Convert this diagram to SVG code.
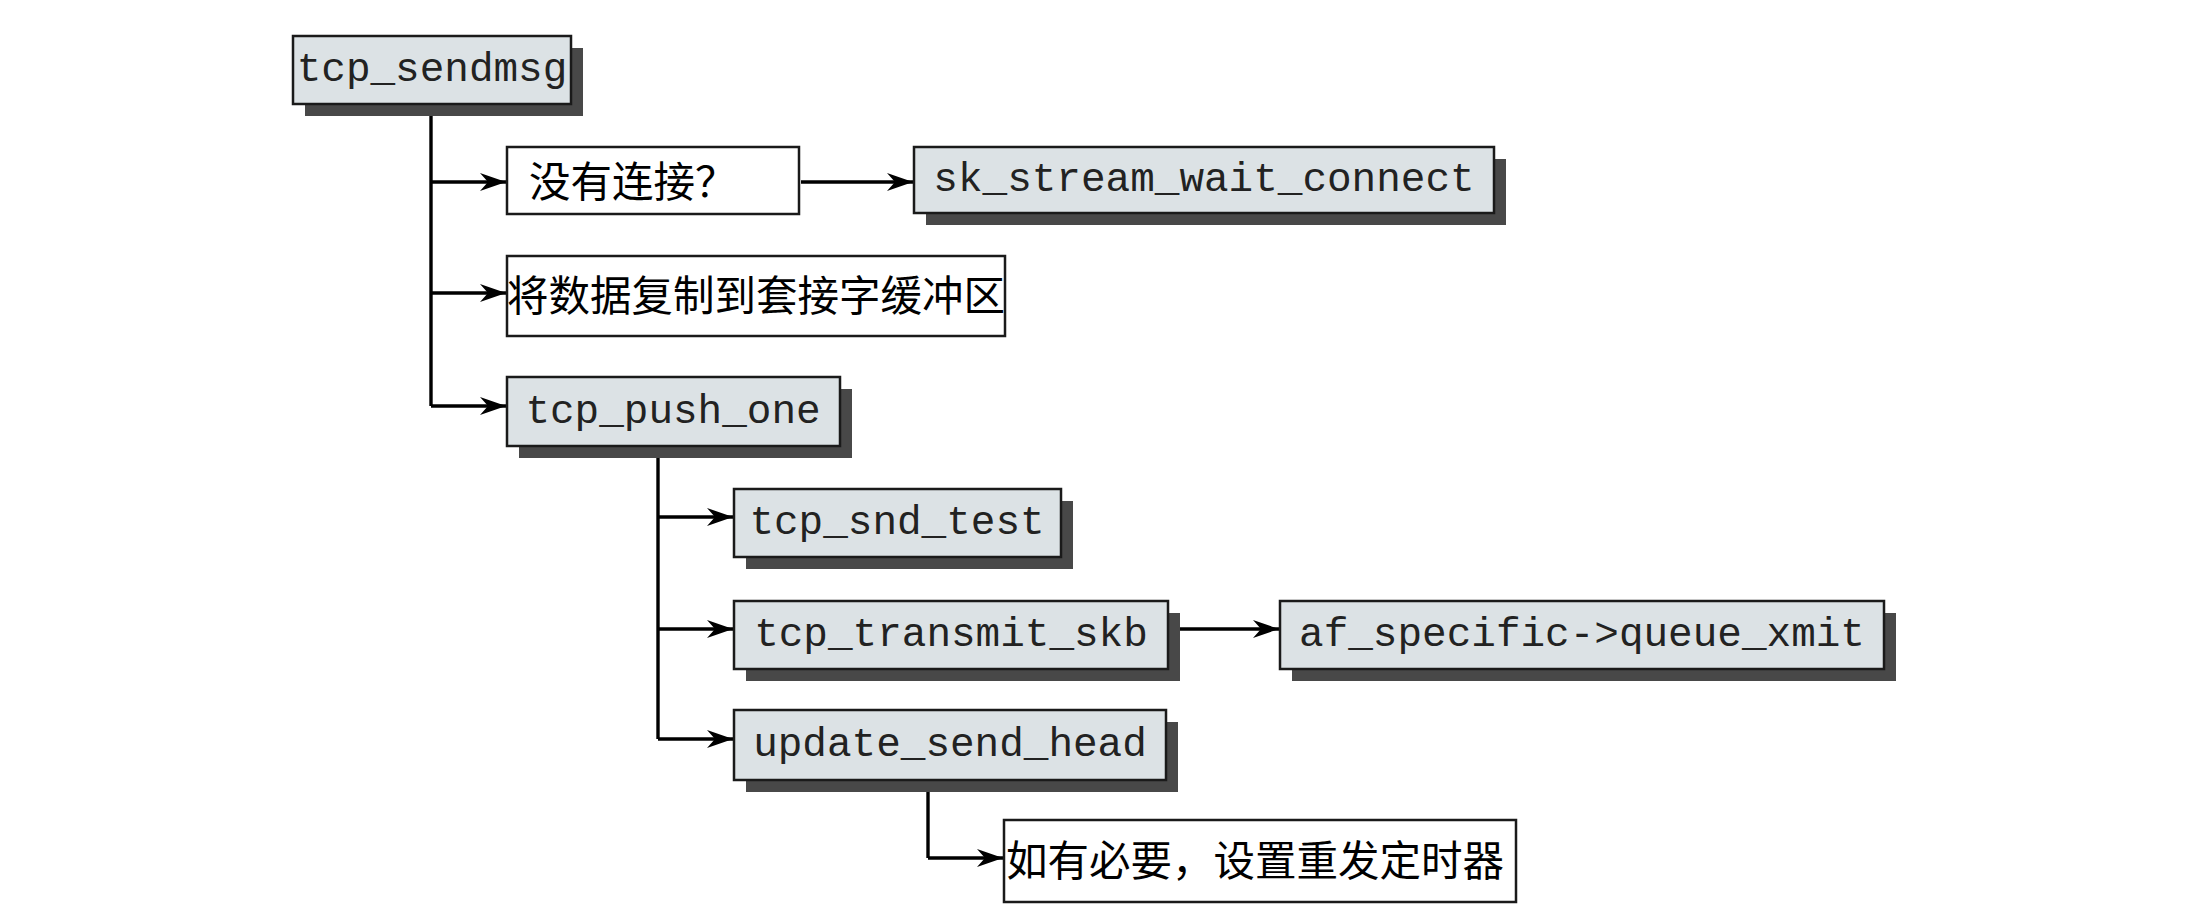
<svg xmlns="http://www.w3.org/2000/svg" width="2195" height="918" viewBox="0 0 2195 918">
<style>
.bg{fill:#ffffff}
.box{fill:#dce2e5;stroke:#1a1a1a;stroke-width:2.5}
.wbox{fill:#ffffff;stroke:#1a1a1a;stroke-width:2.5}
.sh{fill:#484848}
.mono{font-family:"Liberation Mono","DejaVu Sans Mono",monospace;font-size:41px;fill:#222;text-anchor:middle}
.cjk{font-family:"Noto Sans CJK SC","Noto Sans CJK JP",sans-serif;font-size:41.5px;fill:#000}
.ln{fill:none;stroke:#000;stroke-width:3.4}
.ar{marker-end:url(#arr)}
</style>
<defs>
<marker id="arr" markerUnits="userSpaceOnUse" markerWidth="28" markerHeight="22" refX="26" refY="11" orient="auto">
<path d="M0,2 L26,11 L0,20 L8,11 z" fill="#000"/>
</marker>
</defs>
<rect class="bg" x="0" y="0" width="2195" height="918"/>
<g id="connectors">
<path class="ln" d="M431,104 V406"/>
<path class="ln ar" d="M431,182 H506"/>
<path class="ln ar" d="M431,293 H506"/>
<path class="ln ar" d="M431,406 H506"/>
<path class="ln ar" d="M801,182 H913"/>
<path class="ln" d="M658,447 V739"/>
<path class="ln ar" d="M658,517 H733"/>
<path class="ln ar" d="M658,629 H733"/>
<path class="ln ar" d="M658,739 H733"/>
<path class="ln ar" d="M1168,629 H1279"/>
<path class="ln" d="M928,780 V858"/>
<path class="ln ar" d="M928,858 H1003"/>
</g>
<g id="n_tcp_sendmsg">
<rect class="sh" x="305" y="48" width="278" height="68"/>
<rect class="box" x="293" y="36" width="278" height="68"/>
<text class="mono" x="432" y="81">tcp_sendmsg</text>
</g>
<g id="n_noconn">
<rect class="wbox" x="507" y="147" width="292" height="67"/>
<text class="cjk" x="529" y="197">没有连接？</text>
</g>
<g id="n_sk_stream_wait_connect">
<rect class="sh" x="926" y="159" width="580" height="66"/>
<rect class="box" x="914" y="147" width="580" height="66"/>
<text class="mono" x="1204" y="191">sk_stream_wait_connect</text>
</g>
<g id="n_copy">
<rect class="wbox" x="507" y="256" width="498" height="80"/>
<text class="cjk" x="507" y="311">将数据复制到套接字缓冲区</text>
</g>
<g id="n_tcp_push_one">
<rect class="sh" x="519" y="389" width="333" height="69"/>
<rect class="box" x="507" y="377" width="333" height="69"/>
<text class="mono" x="673" y="423">tcp_push_one</text>
</g>
<g id="n_tcp_snd_test">
<rect class="sh" x="746" y="501" width="327" height="68"/>
<rect class="box" x="734" y="489" width="327" height="68"/>
<text class="mono" x="897" y="534">tcp_snd_test</text>
</g>
<g id="n_tcp_transmit_skb">
<rect class="sh" x="746" y="613" width="434" height="68"/>
<rect class="box" x="734" y="601" width="434" height="68"/>
<text class="mono" x="951" y="646">tcp_transmit_skb</text>
</g>
<g id="n_af_specific">
<rect class="sh" x="1292" y="613" width="604" height="68"/>
<rect class="box" x="1280" y="601" width="604" height="68"/>
<text class="mono" x="1582" y="646">af_specific-&gt;queue_xmit</text>
</g>
<g id="n_update_send_head">
<rect class="sh" x="746" y="722" width="432" height="70"/>
<rect class="box" x="734" y="710" width="432" height="70"/>
<text class="mono" x="950" y="756">update_send_head</text>
</g>
<g id="n_timer">
<rect class="wbox" x="1004" y="820" width="512" height="82"/>
<text class="cjk" x="1006" y="876">如有必要，设置重发定时器</text>
</g>
</svg>
